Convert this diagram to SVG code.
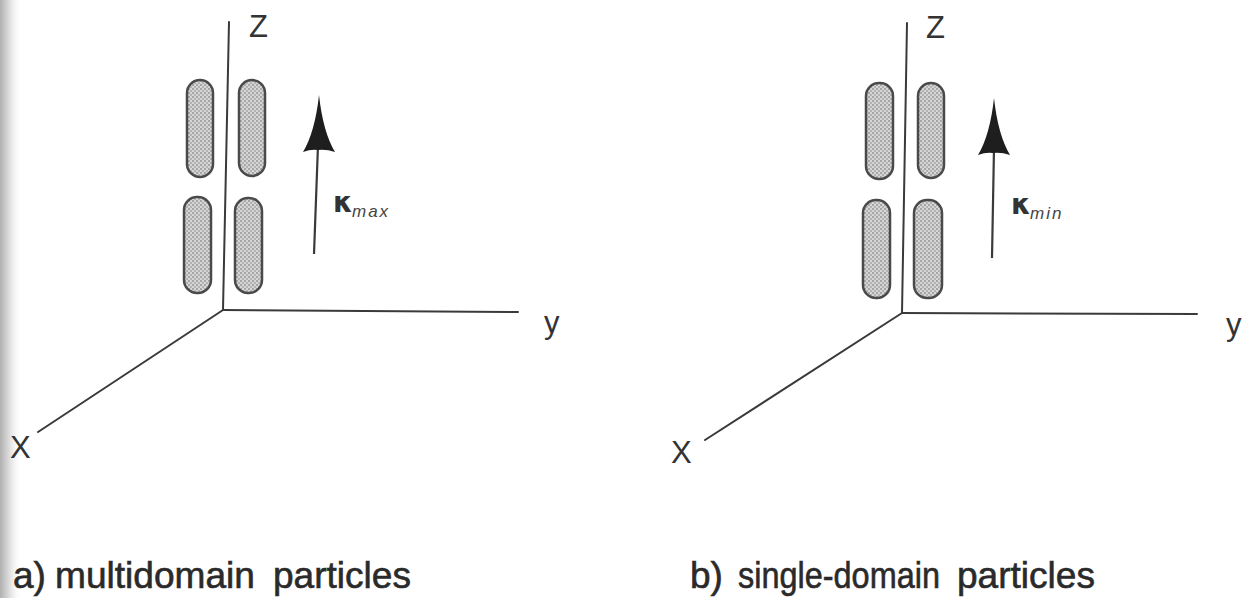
<svg xmlns="http://www.w3.org/2000/svg" width="1247" height="598" viewBox="0 0 1247 598">
  <defs>
    <linearGradient id="edgeShade" x1="0" y1="0" x2="1" y2="0">
      <stop offset="0" stop-color="#b0b0b0"/>
      <stop offset="0.45" stop-color="#e0e0e0"/>
      <stop offset="1" stop-color="#ffffff" stop-opacity="0"/>
    </linearGradient>
    <pattern id="stipple" width="4" height="4" patternUnits="userSpaceOnUse">
      <rect width="4" height="4" fill="#d6d6d6"/>
      <circle cx="1" cy="1" r="0.9" fill="#8e8e8e"/>
      <circle cx="3" cy="3" r="0.9" fill="#a0a0a0"/>
    </pattern>
    <style>
      .axis { stroke: #3a3a3a; stroke-width: 2; fill: none; stroke-linecap: round; }
      .shaft { stroke: #3a3a3a; stroke-width: 2.2; fill: none; }
      .head { fill: #1e1e1e; }
      .grain { fill: url(#stipple); stroke: #4a4a4a; stroke-width: 2.5; }
      .lbl { font-family: "Liberation Sans", Arial, sans-serif; fill: #333; }
      .axlbl { font-size: 31px; }
      .cap { font-size: 37px; fill: #2a2a2a; stroke: #2a2a2a; stroke-width: 0.6; }
      .kap { font-family: "DejaVu Sans", "Liberation Sans", sans-serif; font-size: 28px; font-weight: bold; fill: #333; }
      .sub { font-family: "Liberation Sans", Arial, sans-serif; font-size: 17px; font-style: italic; fill: #444; }
    </style>
  </defs>

  <rect width="1247" height="598" fill="#ffffff"/>
  <rect x="0" y="0" width="22" height="598" fill="url(#edgeShade)"/>

  <!-- panel a: multidomain particles -->
  <g id="panel-a">
    <g id="axes-a">
      <line class="axis" x1="229" y1="22" x2="223" y2="310"/>
      <line class="axis" x1="223" y1="310" x2="518" y2="312"/>
      <line class="axis" x1="223" y1="310" x2="38" y2="432"/>
      <text class="lbl axlbl" x="249" y="37">Z</text>
      <text class="lbl axlbl" x="544" y="333">y</text>
      <text class="lbl axlbl" x="10" y="458">X</text>
    </g>
    <g id="grains-a">
      <rect class="grain" x="187" y="80" width="26" height="97" rx="13"/>
      <rect class="grain" x="239" y="80" width="26" height="96" rx="13"/>
      <rect class="grain" x="184" y="197" width="27" height="96" rx="13"/>
      <rect class="grain" x="235" y="198" width="27" height="95" rx="13"/>
    </g>
    <g id="kappa-a">
      <path class="shaft" d="M318,145 L314,254"/>
      <path class="head" d="M319,95 Q315,132 303,152 Q311,149 318,150 Q326,149 335,152 Q323,132 319,95 Z"/>
      <text class="kap" x="333" y="212">κ</text>
      <text class="sub" x="352" y="217" letter-spacing="2">max</text>
    </g>
    <text class="lbl cap" y="588"><tspan x="13">a)</tspan><tspan x="55" textLength="200" lengthAdjust="spacingAndGlyphs">multidomain</tspan><tspan x="273" textLength="138" lengthAdjust="spacingAndGlyphs">particles</tspan></text>
  </g>

  <!-- panel b: single-domain particles -->
  <g id="panel-b">
    <g id="axes-b">
      <line class="axis" x1="907" y1="23" x2="902" y2="313"/>
      <line class="axis" x1="902" y1="313" x2="1197" y2="314"/>
      <line class="axis" x1="902" y1="313" x2="705" y2="440"/>
      <text class="lbl axlbl" x="926" y="38">Z</text>
      <text class="lbl axlbl" x="1226" y="335">y</text>
      <text class="lbl axlbl" x="671" y="463">X</text>
    </g>
    <g id="grains-b">
      <rect class="grain" x="866" y="83" width="27" height="96" rx="13"/>
      <rect class="grain" x="918" y="83" width="26" height="95" rx="13"/>
      <rect class="grain" x="863" y="200" width="27" height="98" rx="13"/>
      <rect class="grain" x="914" y="200" width="28" height="98" rx="13"/>
    </g>
    <g id="kappa-b">
      <path class="shaft" d="M994,148 L992,258"/>
      <path class="head" d="M994,98 Q990,135 978,155 Q986,152 993,153 Q1001,152 1010,155 Q998,135 994,98 Z"/>
      <text class="kap" x="1011" y="214">κ</text>
      <text class="sub" x="1030" y="219" letter-spacing="2">min</text>
    </g>
    <text class="lbl cap" y="588"><tspan x="690">b)</tspan><tspan x="738" textLength="202" lengthAdjust="spacingAndGlyphs">single-domain</tspan><tspan x="957" textLength="138" lengthAdjust="spacingAndGlyphs">particles</tspan></text>
  </g>
</svg>
